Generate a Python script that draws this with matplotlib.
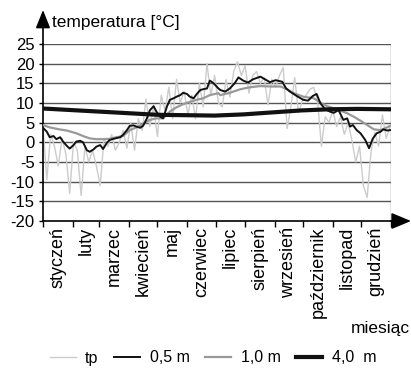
import numpy as np
import matplotlib

matplotlib.use("Agg")
import matplotlib.pyplot as plt

# soil temperature by day of year
MONTHS = ["styczeń", "luty", "marzec", "kwiecień", "maj", "czerwiec", "lipiec",
          "sierpień", "wrzesień", "październik", "listopad", "grudzień"]
MONTH_EDGES = [0, 31, 59, 90, 120, 151, 181, 212, 243, 273, 304, 334, 365]
Y_TICKS = [-20, -15, -10, -5, 0, 5, 10, 15, 20, 25]

# tp: air temperature, every 4th day
TP = [4, -9.5, 2, -1, -6, 1, -3, -13, 0, -2, -13.5, -1, -5, -2, -6, -11,
      1, -1, 2, -2, 0, 3, -1.5, 5, -2, 6, 3, 11, 4, 9, 1.5, 12,
      8, 14, 6, 16, 10, 13, 7, 12, 6, 15, 9, 20, 12, 17, 10,
      9, 16, 11.5, 18, 20.5, 17, 19.5, 12.5, 17, 18, 15, 16.5, 9.5, 16, 14, 17,
      19, 3.5, 9, 16.5, 7.5, 10.5, 12, 13.5, 14, 10.5, -1, 6.5, 5, 8, 4, 6.5,
      2, 5, 0.5, -5, -1, -11, -14, -2.5, 2.5, -1, 7, 1, 4]
TP_DAYS = np.arange(0, 365, 4)

D05_DAYS = [0, 4, 7, 11, 14, 18, 21, 25, 28, 32, 35, 39, 42, 46, 49, 53, 56, 60,
            63, 67, 70, 74, 81, 84, 88, 91, 95, 98, 102, 105, 109, 112, 116, 119,
            123, 126, 130, 133, 137, 140, 144, 147, 151, 154, 158, 161, 165, 168,
            172, 175, 179, 184, 186, 191, 196, 201, 205, 210, 215, 220, 228, 233,
            238, 244, 251, 255, 259, 266, 273, 278, 283, 287, 291, 296, 301, 305,
            310, 315, 319, 322, 325, 329, 333, 338, 342, 346, 350, 354, 357, 361, 364]
D05 = [3.7, 2.7, 1.3, 1.6, 0.8, 1.3, 0.2, -0.9, -1.6, -0.7, 0.2, 0.4, 0.0, -2.0,
       -2.4, -1.8, -1.1, -0.7, -1.7, -0.1, 0.6, 0.9, 1.3, 1.9, 3.1, 4.2, 4.3, 4.0,
       3.7, 4.2, 6.1, 8.1, 9.2, 7.8, 6.5, 6.1, 9.1, 10.8, 11.2, 11.6, 12.0, 12.6,
       12.3, 11.6, 11.2, 12.2, 13.3, 13.5, 13.7, 15.7, 15.0, 13.7, 13.3, 12.9,
       13.7, 15.0, 16.5, 15.7, 15.2, 16.0, 16.7, 16.0, 15.3, 15.8, 15.4, 13.7,
       12.9, 11.8, 10.8, 10.6, 11.8, 12.3, 9.9, 8.4, 7.8, 7.5, 8.2, 5.7, 6.1, 4.0,
       4.4, 3.1, 2.3, 0.6, -1.5, 1.0, 2.3, 2.7, 3.3, 3.0, 3.1]

D10_DAYS = [0, 7, 17, 25, 35, 42, 49, 56, 63, 70, 77, 84, 91, 98, 105, 112, 119,
            126, 133, 140, 147, 154, 161, 168, 175, 184, 186, 196, 207, 217, 228,
            238, 249, 256, 263, 273, 284, 291, 298, 308, 319, 326, 333, 340, 347,
            354, 361, 364]
D10 = [4.4, 3.8, 3.3, 3.0, 2.3, 1.6, 1.0, 0.8, 0.8, 0.9, 1.3, 1.6, 3.1, 3.8,
       4.7, 5.7, 6.1, 6.1, 7.8, 8.9, 9.7, 10.3, 10.8, 11.2, 12.0, 12.5, 12.0,
       12.6, 13.5, 14.0, 14.3, 14.2, 14.2, 13.5, 12.5, 11.6, 11.2, 10.1, 9.2,
       8.4, 7.4, 6.5, 5.5, 4.4, 3.3, 3.1, 3.8, 4.2]

D40_DAYS = [0, 30, 60, 90, 120, 150, 180, 210, 240, 270, 300, 330, 364]
D40 = [8.6, 8.2, 7.8, 7.4, 7.0, 6.9, 6.8, 7.1, 7.6, 8.1, 8.4, 8.5, 8.4]

plt.rcParams.update({
    "font.family": ["Liberation Sans", "DejaVu Sans"],
    "axes.unicode_minus": False,
})

W, H = 411, 371
fig = plt.figure(figsize=(W / 100, H / 100), dpi=100)
ax = fig.add_axes([43 / W, 1 - 221 / H, 348 / W, 177 / H])

ax.plot(TP_DAYS, TP, color="#cccccc", lw=1.0, label="tp", zorder=2)
ax.plot(D05_DAYS, D05, color="#111111", lw=1.4, label="0,5 m", zorder=4)
ax.plot(D10_DAYS, D10, color="#999999", lw=1.6, label="1,0 m", zorder=3)
ax.plot(D40_DAYS, D40, color="#111111", lw=3.0, label="4,0  m", zorder=5)

ax.set_xlim(0, 365)
ax.set_ylim(-20, 25)
ax.set_yticks(Y_TICKS)
ax.set_yticklabels([str(v) for v in Y_TICKS])
for v in Y_TICKS[1:]:
    ax.axhline(v, color="#555555", lw=1.0, zorder=1)

ax.set_xticks(MONTH_EDGES)
ax.set_xticklabels([])
mids = [(a + b) / 2 for a, b in zip(MONTH_EDGES[:-1], MONTH_EDGES[1:])]
ax.set_xticks(mids, minor=True)
ax.set_xticklabels(MONTHS, minor=True, rotation=90, fontsize=13, va="top")
ax.tick_params(axis="x", which="minor", length=0, pad=4)
ax.tick_params(axis="x", which="major", length=4, width=1, direction="out")
ax.tick_params(axis="y", length=3, width=1, labelsize=12, pad=3)

for side in ["top", "right"]:
    ax.spines[side].set_visible(False)
ax.spines["left"].set_linewidth(1.2)
ax.spines["bottom"].set_linewidth(1.2)
ax.axvline(365, color="#777777", lw=1.0, zorder=1)

# axis arrows
ax.annotate("", xy=(43 / W, 1 - 10 / H), xytext=(43 / W, 1 - 44 / H),
            xycoords="figure fraction",
            arrowprops=dict(arrowstyle="-|>,head_length=0.55,head_width=0.22",
                            mutation_scale=20, color="black", lw=1.2,
                            shrinkA=0, shrinkB=0))
ax.annotate("", xy=(411 / W, 1 - 221 / H), xytext=(391 / W, 1 - 221 / H),
            xycoords="figure fraction",
            arrowprops=dict(arrowstyle="-|>,head_length=0.6,head_width=0.25",
                            mutation_scale=20, color="black", lw=1.2,
                            shrinkA=0, shrinkB=0))

fig.text(52 / W, 1 - 23 / H, "temperatura [°C]", fontsize=12.5, va="center", ha="left")
fig.text(410 / W, 1 - 328 / H, "miesiąc", fontsize=12.5, va="center", ha="right")

fig.legend(loc="center", bbox_to_anchor=(213 / W, 1 - 358 / H), ncol=4, frameon=False,
           fontsize=11.5, handlelength=1.6, handletextpad=0.6, columnspacing=1.0)

fig.savefig("out.png", dpi=100)
